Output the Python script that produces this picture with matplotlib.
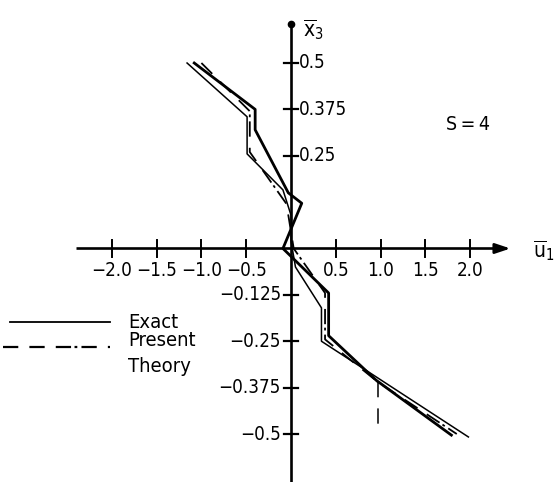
import matplotlib
matplotlib.use("Agg")
import matplotlib.pyplot as plt

plt.rcParams['font.family'] = ['DejaVu Sans']
plt.rcParams['font.stretch'] = 'condensed'
plt.rcParams['mathtext.fontset'] = 'custom'
plt.rcParams['mathtext.rm'] = 'DejaVu Sans:stretch=condensed'
plt.rcParams['mathtext.it'] = 'DejaVu Sans:stretch=condensed'
plt.rcParams['lines.scale_dashes'] = False

# Displacement profiles through the thickness (u1 vs x3), S = 4
exact_thick_u = [-1.08, -0.40, -0.40, -0.03, 0.12, -0.09, 0.42, 0.42, 0.95, 1.79]
exact_thick_x3 = [0.50, 0.375, 0.32, 0.15, 0.122, 0.0, -0.12, -0.235, -0.355, -0.503]

exact_thin_u = [-1.16, -0.49, -0.49, -0.09, 0.0, 0.0, 0.05, 0.34, 0.34, 1.98]
exact_thin_x3 = [0.50, 0.355, 0.255, 0.158, 0.09, 0.02, -0.05, -0.16, -0.25, -0.508]

present_u = [-1.00, -0.46, -0.46, -0.05, 0.03, 0.38, 0.38, 0.97, 1.85]
present_x3 = [0.50, 0.37, 0.26, 0.12, 0.0, -0.12, -0.245, -0.36, -0.50]

present_drop_u = [0.97, 0.97]
present_drop_x3 = [-0.36, -0.50]

x_ticks = [-2.0, -1.5, -1.0, -0.5, 0.5, 1.0, 1.5, 2.0]
x_tick_labels = ['\u22122.0', '\u22121.5', '\u22121.0', '\u22120.5', '0.5', '1.0', '1.5', '2.0']
y_ticks = [0.5, 0.375, 0.25, -0.125, -0.25, -0.375, -0.5]
y_tick_labels = ['0.5', '0.375', '0.25', '\u22120.125', '\u22120.25', '\u22120.375', '\u22120.5']

W, H = 554, 482
fig = plt.figure(figsize=(W / 100, H / 100), dpi=100)
ax = fig.add_axes([0, 0, 1, 1])
ax.set_axis_off()

# pixel scale of the drawing: 89.6 px per unit of u1, 371 px per unit of x3
x0, sx = 291.0, 89.6
y0, sy = 248.5, 371.0
ax.set_xlim(-x0 / sx, (W - x0) / sx)
ax.set_ylim((y0 - H) / sy, y0 / sy)


def px(x):
    return (x - x0) / sx


def py(y):
    return (y0 - y) / sy


dash_dot = (11, 8, 11, 8, 11, 2.5, 2, 3)
k = 'black'

# coordinate axes
ax.plot([-2.40, 2.40], [0, 0], color=k, lw=1.9, solid_capstyle='butt')
ax.annotate('', xy=(2.48, 0), xytext=(2.28, 0),
            arrowprops=dict(arrowstyle='-|>,head_length=0.9,head_width=0.3', color=k, lw=1.9))
ax.plot([0, 0], [-0.64, 0.60], color=k, lw=1.9, solid_capstyle='butt')
ax.plot([0], [0.605], marker='o', ms=4.5, color=k)

tx = 7 / sx
ty = 8 / sy
for t in x_ticks:
    ax.plot([t, t], [-ty, ty], color=k, lw=1.4)
for t in y_ticks:
    ax.plot([-tx, tx], [t, t], color=k, lw=1.6)

fs = 13.5
for t, lab in zip(x_ticks, x_tick_labels):
    ax.text(t, -21.5 / sy, lab, ha='center', va='center', fontsize=fs)
for t, lab in zip(y_ticks, y_tick_labels):
    if t > 0:
        ax.text(8 / sx, t, lab, ha='left', va='center', fontsize=fs)
    else:
        ax.text(-10 / sx, t, lab, ha='right', va='center', fontsize=fs)

ax.text(px(303), py(30), r'$\overline{\mathrm{x}}_3$', fontsize=15, ha='left', va='center')
ax.text(px(533), py(251), r'$\overline{\mathrm{u}}_1$', fontsize=15, ha='left', va='center')
ax.text(px(468), py(125), 'S\u2009=\u20094', fontsize=14, ha='center', va='center')

# curves
ax.plot(exact_thick_u, exact_thick_x3, color=k, lw=2.0)
ax.plot(exact_thin_u, exact_thin_x3, color=k, lw=1.1)
ax.plot(present_u, present_x3, color=k, lw=1.3, dashes=dash_dot)
ax.plot(present_drop_u, present_drop_x3, color=k, lw=1.1, dashes=dash_dot)

# legend
ax.plot([px(10), px(110)], [py(322)] * 2, color=k, lw=1.3)
ax.plot([px(3), px(110)], [py(347)] * 2, color=k, lw=1.6, dashes=dash_dot)
ax.text(px(128), py(322), 'Exact', fontsize=14.5, ha='left', va='center')
ax.text(px(128), py(341), 'Present', fontsize=14.5, ha='left', va='center')
ax.text(px(128), py(367), 'Theory', fontsize=14.5, ha='left', va='center')

fig.savefig('out.png', dpi=100)
